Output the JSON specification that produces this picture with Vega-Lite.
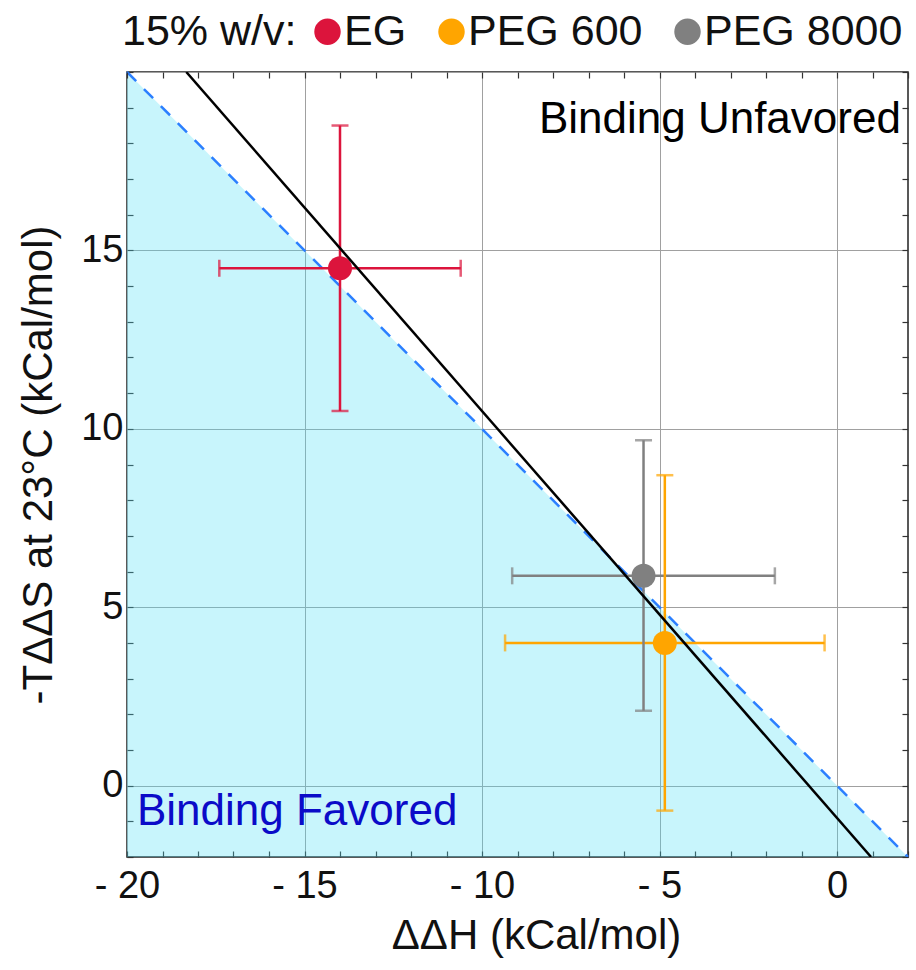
{
  "$schema": "https://vega.github.io/schema/vega-lite/v6.json",
  "width": 781,
  "height": 785,
  "autosize": {"type": "none"},
  "padding": {"left": 127, "top": 72, "right": 8, "bottom": 113},
  "background": "white",
  "config": {
    "font": "Liberation Sans",
    "view": {"stroke": "#222222", "strokeWidth": 1.5},
    "axis": {
      "domain": false,
      "tickColor": "#333333",
      "tickWidth": 1.2,
      "tickSize": -6,
      "labelFontSize": 38,
      "labelColor": "#111111",
      "titleFontSize": 42,
      "titleFontWeight": "normal",
      "titleColor": "#111111",
      "gridColor": "#a0a0a0",
      "gridWidth": 1,
      "labelOverlap": false,
      "labelFlush": false,
      "labelBound": false
    }
  },
  "datasets": {
    "region": [{"x": -20, "y": 20}, {"x": 2, "y": -2}],
    "fit": [{"x": -18.33, "y": 20}, {"x": 0.96, "y": -2}],
    "pts": [
      {"s": "EG", "x": -14.0, "y": 14.5, "xlo": -17.4, "xhi": -10.6, "ylo": 10.5, "yhi": 18.5},
      {"s": "PEG 600", "x": -4.85, "y": 4.0, "xlo": -9.35, "xhi": -0.35, "ylo": -0.7, "yhi": 8.7},
      {"s": "PEG 8000", "x": -5.45, "y": 5.88, "xlo": -9.15, "xhi": -1.75, "ylo": 2.1, "yhi": 9.68}
    ],
    "notesR": [{"label": "Binding Unfavored", "x": 1.8, "y": 18.3}],
    "notesL": [{"label": "Binding Favored", "x": -19.72, "y": -1.1}]
  },
  "resolve": {"axis": {"x": "independent", "y": "independent"}, "legend": {"color": "independent"}},
  "layer": [
    {
      "data": {"name": "region"},
      "mark": {"type": "area", "color": "#48def5", "opacity": 0.3},
      "encoding": {
        "x": {
          "field": "x", "type": "quantitative",
          "scale": {"domain": [-20, 2], "nice": false, "zero": false},
          "axis": {
            "orient": "bottom",
            "title": "ΔΔH (kCal/mol)",
            "titleX": 409,
            "values": [-20,-19,-18,-17,-16,-15,-14,-13,-12,-11,-10,-9,-8,-7,-6,-5,-4,-3,-2,-1,0,1,2],
            "labelExpr": "datum.value % 5 === 0 ? (datum.value < 0 ? '- ' + abs(datum.value) : '' + datum.value) : ''",
            "grid": true,
            "gridOpacity": {"condition": {"test": "datum.value % 5 === 0", "value": 1}, "value": 0},
            "labelPadding": 16,
            "titlePadding": 10
          }
        },
        "y": {
          "field": "y", "type": "quantitative",
          "scale": {"domain": [-2, 20], "nice": false, "zero": false},
          "axis": {
            "orient": "left",
            "title": "-TΔΔS at 23°C (kCal/mol)",
            "values": [-2,-1,0,1,2,3,4,5,6,7,8,9,10,11,12,13,14,15,16,17,18,19,20],
            "labelExpr": "datum.value % 5 === 0 && datum.value >= 0 && datum.value < 20 ? '' + datum.value : ''",
            "grid": true,
            "gridOpacity": {"condition": {"test": "datum.value % 5 === 0", "value": 1}, "value": 0},
            "labelPadding": 10,
            "titlePadding": 20
          }
        },
        "y2": {"datum": -2}
      }
    },
    {
      "data": {"name": "region"},
      "mark": {"type": "line", "color": "#2b7fff", "strokeWidth": 2.5, "strokeDash": [13, 11]},
      "encoding": {
        "x": {"field": "x", "type": "quantitative", "axis": null},
        "y": {"field": "y", "type": "quantitative", "axis": null}
      }
    },
    {
      "data": {"name": "pts"},
      "mark": {"type": "errorbar", "thickness": 2.5, "ticks": {"size": 17, "thickness": 2.5}},
      "encoding": {
        "x": {"field": "xlo", "type": "quantitative", "axis": null},
        "x2": {"field": "xhi"},
        "y": {"field": "y", "type": "quantitative", "axis": null},
        "color": {"field": "s", "type": "nominal", "legend": null}
      }
    },
    {
      "data": {"name": "pts"},
      "mark": {"type": "errorbar", "thickness": 2.5, "ticks": {"size": 17, "thickness": 2.5}},
      "encoding": {
        "y": {"field": "ylo", "type": "quantitative", "axis": null},
        "y2": {"field": "yhi"},
        "x": {"field": "x", "type": "quantitative", "axis": null},
        "color": {"field": "s", "type": "nominal", "legend": null}
      }
    },
    {
      "data": {"name": "pts"},
      "mark": {"type": "point", "filled": true, "size": 576, "opacity": 1, "shape": "circle"},
      "encoding": {
        "x": {"field": "x", "type": "quantitative", "axis": null},
        "y": {"field": "y", "type": "quantitative", "axis": null},
        "color": {
          "field": "s", "type": "nominal",
          "scale": {"domain": ["EG", "PEG 600", "PEG 8000"], "range": ["#dc143c", "#ffa500", "#808080"]},
          "legend": {
            "orient": "none",
            "legendX": -5,
            "legendY": -62,
            "direction": "horizontal",
            "title": "15% w/v:",
            "titleOrient": "left",
            "titleFontSize": 43,
            "titleFontWeight": "normal",
            "titleColor": "#111111",
            "titlePadding": 9,
            "labelFontSize": 43,
            "labelColor": "#111111",
            "labelLimit": 0,
            "labelOffset": -5,
            "columnPadding": 23,
            "symbolType": "circle",
            "symbolSize": 700,
            "symbolStrokeWidth": 0,
            "symbolOpacity": 1
          }
        }
      }
    },
    {
      "data": {"name": "fit"},
      "mark": {"type": "line", "color": "#000000", "strokeWidth": 2.5, "clip": true},
      "encoding": {
        "x": {
          "field": "x", "type": "quantitative",
          "axis": {
            "orient": "top", "title": null, "labels": false, "grid": false, "zindex": 1,
            "values": [-20,-19,-18,-17,-16,-15,-14,-13,-12,-11,-10,-9,-8,-7,-6,-5,-4,-3,-2,-1,0,1,2]
          }
        },
        "y": {
          "field": "y", "type": "quantitative",
          "axis": {
            "orient": "right", "title": null, "labels": false, "grid": false, "zindex": 1,
            "values": [-2,-1,0,1,2,3,4,5,6,7,8,9,10,11,12,13,14,15,16,17,18,19,20]
          }
        }
      }
    },
    {
      "data": {"name": "notesR"},
      "mark": {"type": "text", "align": "right", "baseline": "alphabetic", "fontSize": 44, "color": "#000000"},
      "encoding": {
        "x": {"field": "x", "type": "quantitative", "axis": null},
        "y": {"field": "y", "type": "quantitative", "axis": null},
        "text": {"field": "label"}
      }
    },
    {
      "data": {"name": "notesL"},
      "mark": {"type": "text", "align": "left", "baseline": "alphabetic", "fontSize": 44, "color": "#0b0bc8"},
      "encoding": {
        "x": {"field": "x", "type": "quantitative", "axis": null},
        "y": {"field": "y", "type": "quantitative", "axis": null},
        "text": {"field": "label"}
      }
    }
  ]
}
